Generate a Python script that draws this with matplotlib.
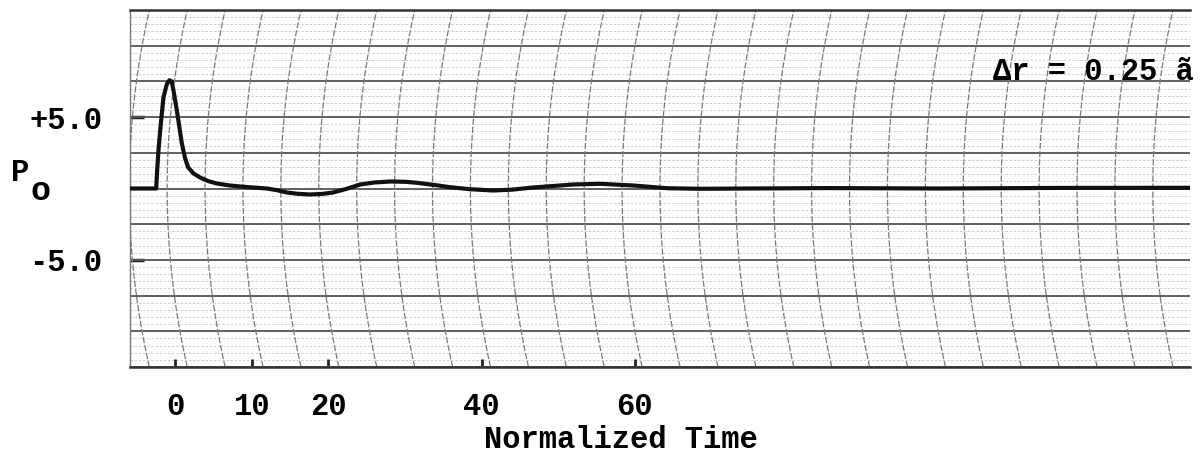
import numpy as np
import matplotlib
matplotlib.use("Agg")
import matplotlib.pyplot as plt

# ---- data read from the strip-chart ----
time = [-5.9, -2.48, -2.35, -2.18, -1.9, -1.53, -1.08, -0.75, -0.45, -0.2, 0.22,
        0.87, 1.3, 1.70, 2.4, 3.26, 4.3, 5.44, 7.0, 8.49, 10.2, 11.97, 13.3,
        14.58, 16.0, 17.62, 19.2, 20.6, 22.4, 24.15, 26.0, 28.07, 30.0, 31.55,
        33.8, 35.9, 38.5, 41.5, 44.0, 46.7, 49.5, 51.96, 55.5, 59.8, 64.2,
        68.5, 75.0, 85.0, 100.0, 115.0, 132.5]
p_o = [0.0, 0.0, 1.3, 2.7, 4.4, 6.39, 7.33, 7.58, 7.5, 6.8, 5.46,
       3.15, 2.1, 1.47, 1.05, 0.77, 0.52, 0.35, 0.22, 0.14, 0.07, 0.0, -0.12,
       -0.28, -0.37, -0.42, -0.38, -0.28, -0.02, 0.28, 0.42, 0.49, 0.47, 0.40,
       0.25, 0.09, -0.05, -0.14, -0.08, 0.07, 0.18, 0.28, 0.33, 0.21, 0.02,
       -0.02, 0.0, 0.03, 0.0, 0.04, 0.05]

x_ticks = [0, 10, 20, 40, 60]
x_ticklabels = ["0", "10", "20", "40", "60"]
y_ticks = [5.0, -5.0]
y_ticklabels = ["+5.0", "-5.0"]
annotation = "\u0394r = 0.25 \u00e3"
x_label = "Normalized Time"

XMIN, XMAX = -5.9, 132.5
YMIN, YMAX = -12.5, 12.5

FONT = "Liberation Mono"
FW = "bold"

fig = plt.figure(figsize=(12.04, 4.62), dpi=100)
ax = fig.add_axes([130 / 1204, 1 - 367 / 462, 1060 / 1204, 357 / 462])
ax.set_xlim(XMIN, XMAX)
ax.set_ylim(YMIN, YMAX)

# ---- recorder-paper grid ----
for yv in np.arange(YMIN, YMAX + 0.01, 0.5):
    ax.axhline(yv, color="#c8c8c8", lw=0.6, ls=(0, (3, 2)), zorder=1)
for yv in np.arange(YMIN, YMAX + 0.01, 2.5):
    ax.axhline(yv, color="#555555", lw=1.3, zorder=2)

yy = np.linspace(YMIN, YMAX, 120)
for xc in np.arange(1.5 - 5 * 1.5, XMAX + 5, 4.95):
    xx = xc + 0.0168 * yy ** 2
    ax.plot(xx, yy, color="#7a7a7a", lw=0.9, ls=(0, (5, 1.5)), zorder=2)

# ---- trace ----
ax.plot(time, p_o, color="#111111", lw=3.0, solid_capstyle="round",
        solid_joinstyle="round", zorder=5)

# ---- axes styling ----
ax.spines["right"].set_visible(False)
ax.spines["top"].set_color("#333333")
ax.spines["top"].set_linewidth(1.8)
ax.spines["bottom"].set_color("#333333")
ax.spines["bottom"].set_linewidth(1.8)
ax.spines["left"].set_color("#777777")
ax.spines["left"].set_linewidth(1.0)

ax.set_xticks(x_ticks)
ax.set_xticklabels(x_ticklabels, fontfamily=FONT, fontsize=22, fontweight=FW)
ax.set_yticks(y_ticks)
ax.set_yticklabels(y_ticklabels, fontfamily=FONT, fontsize=22, fontweight=FW)
ax.tick_params(axis="x", direction="in", length=6, width=2, color="#222222", pad=18)
ax.tick_params(axis="y", direction="in", length=10, width=2.5, color="#222222", pad=20)

ax.set_xlabel(x_label, fontfamily=FONT, fontsize=22, fontweight=FW)
ax.xaxis.set_label_coords((621 - 130) / 1060, (367 - 440) / 357)
ax.xaxis.label.set_va("center")

ax.text(1.004, (367 - 72) / 357, annotation, transform=ax.transAxes,
        ha="right", va="center", fontfamily=FONT, fontsize=22, fontweight=FW,
        zorder=6)

# y-axis label P with subscript o
fig.text(20 / 1204, 1 - 173 / 462, "P", fontfamily=FONT, fontsize=22,
         ha="center", va="center", fontweight=FW)
fig.text(40 / 1204, 1 - 192 / 462, "o", fontfamily=FONT, fontsize=24,
         ha="center", va="center", fontweight=FW)

fig.savefig("out.png", dpi=100, facecolor="white")
